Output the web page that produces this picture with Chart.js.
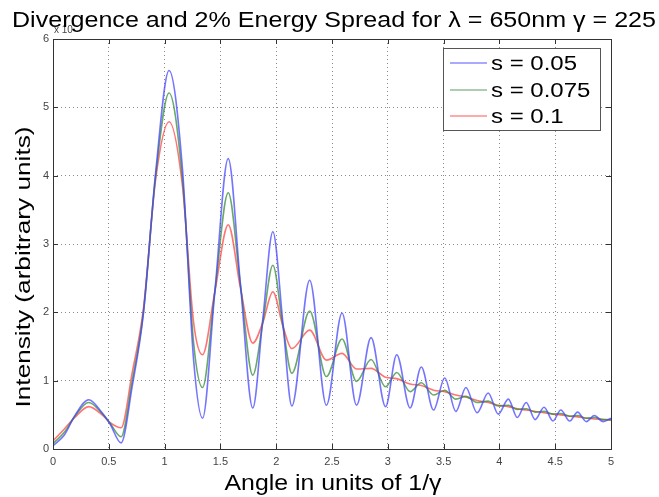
<!DOCTYPE html>
<html>
<head>
<meta charset="utf-8">
<script src="https://cdn.jsdelivr.net/npm/chart.js@4.4.1/dist/chart.umd.min.js"></script>
<style>
  html, body { margin: 0; padding: 0; background: #fff; }
  #wrap { width: 659px; height: 497px; }
</style>
</head>
<body>
<div id="wrap"><canvas id="chart" width="659" height="497"></canvas></div>
<script>
// Values (intensity in units of 1e-?)
var angles = [0, 0.1, 0.2, 0.32, 0.44, 0.51, 0.61, 0.71, 0.81, 0.92, 1.04, 1.16, 1.26, 1.34,
  1.45, 1.57, 1.68, 1.79, 1.88, 1.97, 2.06, 2.14, 2.30, 2.45, 2.59, 2.72, 2.85, 2.98, 3.08,
  3.20, 3.30, 3.41, 3.51, 3.61, 3.70, 3.80, 3.90, 3.99, 4.08, 4.16, 4.24, 4.32, 4.40, 4.48,
  4.55, 4.63, 4.70, 4.78, 4.85, 4.93, 5.0];

var s005 = [0.05, 0.2, 0.5, 0.72, 0.53, 0.37, 0.09, 0.92, 1.98, 4.05, 5.54, 4.1, 1.3, 0.45,
  2.3, 4.25, 2.4, 0.6, 1.9, 3.18, 1.85, 0.63, 2.47, 0.64, 1.99, 0.64, 1.63, 0.62, 1.38,
  0.6, 1.2, 0.57, 1.04, 0.55, 0.9, 0.53, 0.82, 0.51, 0.73, 0.46, 0.68, 0.43, 0.61, 0.41,
  0.57, 0.41, 0.54, 0.4, 0.49, 0.4, 0.45];

var s0075 = [0.08, 0.24, 0.49, 0.68, 0.52, 0.38, 0.18, 1.0, 2.0, 4.0, 5.21, 3.95, 1.55, 0.9,
  2.3, 3.75, 2.4, 1.08, 1.85, 2.69, 1.8, 1.11, 2.02, 1.06, 1.61, 0.99, 1.31, 0.91, 1.12,
  0.84, 0.97, 0.79, 0.86, 0.73, 0.77, 0.68, 0.7, 0.63, 0.64, 0.58, 0.59, 0.54, 0.55, 0.51,
  0.52, 0.48, 0.49, 0.45, 0.46, 0.43, 0.43];

var s01 = [0.12, 0.29, 0.47, 0.62, 0.5, 0.39, 0.31, 1.12, 2.05, 3.95, 4.79, 3.85, 1.85, 1.38,
  2.3, 3.28, 2.35, 1.55, 1.85, 2.3, 1.8, 1.47, 1.74, 1.3, 1.4, 1.17, 1.18, 1.05, 1.03,
  0.95, 0.93, 0.86, 0.84, 0.79, 0.76, 0.71, 0.68, 0.64, 0.62, 0.59, 0.57, 0.55, 0.53, 0.51,
  0.5, 0.48, 0.47, 0.45, 0.44, 0.43, 0.42];

var seriesLabels = ['s = 0.05', 's = 0.075', 's = 0.1'];
var seriesColors = ['rgba(70,70,255,0.75)', 'rgba(55,140,55,0.75)', 'rgba(255,70,70,0.75)'];
var legendColors = ['#8c8cff', '#93bd93', '#ff8c8c'];

var xTicks = [0, 0.5, 1, 1.5, 2, 2.5, 3, 3.5, 4, 4.5, 5];
var yTicks = [0, 1, 2, 3, 4, 5, 6];

var titleText = 'Divergence and 2% Energy Spread for \u03bb = 650nm \u03b3 = 225';
var xTitle = 'Angle in units of 1/\u03b3';
var yTitle = 'Intensity (arbitrary units)';

function toPoints(ys) {
    return angles.map(function (a, i) { return { x: a, y: ys[i] }; });
}

// text squeezed/stretched to a given width
function fitText(ctx, text, x, y, width, font, angle) {
    ctx.save();
    ctx.font = font;
    var w = ctx.measureText(text).width;
    ctx.translate(x, y);
    if (angle) ctx.rotate(angle);
    ctx.scale(width / w, 1);
    ctx.textAlign = 'center';
    ctx.fillText(text, 0, 0);
    ctx.restore();
}

var decorPlugin = {
    id: 'decor',
    afterDraw: function (chart) {
        var ctx = chart.ctx;
        var a = chart.chartArea;
        var xs = chart.scales.x, ys = chart.scales.y;

        // axes box + inward ticks
        ctx.save();
        ctx.strokeStyle = '#333';
        ctx.lineWidth = 1;
        ctx.strokeRect(a.left + 0.5, a.top + 0.5, a.right - a.left, a.bottom - a.top);
        ctx.beginPath();
        xTicks.forEach(function (t) {
            var px = Math.round(xs.getPixelForValue(t)) + 0.5;
            ctx.moveTo(px, a.bottom); ctx.lineTo(px, a.bottom - 5);
            ctx.moveTo(px, a.top); ctx.lineTo(px, a.top + 5);
        });
        yTicks.forEach(function (t) {
            var py = Math.round(ys.getPixelForValue(t)) + 0.5;
            ctx.moveTo(a.left, py); ctx.lineTo(a.left + 5, py);
            ctx.moveTo(a.right, py); ctx.lineTo(a.right - 5, py);
        });
        ctx.stroke();

        // exponent label
        ctx.fillStyle = '#444';
        ctx.font = '10px "Liberation Sans", Arial, sans-serif';
        ctx.textAlign = 'left';
        ctx.fillText('x 10', a.left + 1, 33);

        // titles
        ctx.fillStyle = '#000';
        fitText(ctx, titleText, 334, 27, 644, '22px "Liberation Sans", Arial, sans-serif');
        fitText(ctx, xTitle, 333, 490, 217, '22px "Liberation Sans", Arial, sans-serif');
        fitText(ctx, yTitle, 30, 267, 281, '21px "Liberation Sans", Arial, sans-serif', -Math.PI / 2);

        // legend
        var lx = 443, ly = 48, lw = 157, lh = 82;
        ctx.fillStyle = '#fff';
        ctx.fillRect(lx, ly, lw, lh);
        ctx.strokeStyle = '#555';
        ctx.strokeRect(lx + 0.5, ly + 0.5, lw, lh);
        var rows = [63, 90, 116];
        seriesLabels.forEach(function (lab, i) {
            ctx.strokeStyle = legendColors[i];
            ctx.lineWidth = 1.5;
            ctx.beginPath();
            ctx.moveTo(450, rows[i]); ctx.lineTo(487, rows[i]);
            ctx.stroke();
            ctx.save();
            ctx.fillStyle = '#000';
            ctx.font = '20px "Liberation Sans", Arial, sans-serif';
            ctx.textBaseline = 'middle';
            ctx.translate(491, rows[i] + 1);
            ctx.scale(1.2, 1);
            ctx.fillText(lab, 0, 0);
            ctx.restore();
        });
        ctx.restore();
    }
};

var ctx = document.getElementById('chart').getContext('2d');
var chart = new Chart(ctx, {
    type: 'line',
    data: {
        datasets: [s005, s0075, s01].map(function (ys, i) {
            return {
                label: seriesLabels[i],
                data: toPoints(ys),
                borderColor: seriesColors[i],
                borderWidth: 1.6,
                pointRadius: 0,
                fill: false,
                cubicInterpolationMode: 'monotone'
            };
        })
    },
    options: {
        responsive: false,
        animation: false,
        events: [],
        layout: { padding: { left: 0, right: 48, top: 39, bottom: 28 } },
        plugins: {
            legend: { display: false },
            title: { display: false },
            tooltip: { enabled: false }
        },
        scales: {
            x: {
                type: 'linear',
                min: 0, max: 5,
                afterBuildTicks: function (scale) {
                    scale.ticks = xTicks.map(function (v) { return { value: v }; });
                },
                afterFit: function (scale) { scale.height = 20; },
                grid: { color: '#8a8a8a', lineWidth: 1, drawTicks: false },
                border: { display: false, dash: [1, 3] },
                ticks: {
                    padding: 6,
                    color: '#444',
                    font: { family: '"Liberation Sans", Arial, sans-serif', size: 11 },
                    maxRotation: 0,
                    callback: function (v) { return String(v); }
                }
            },
            y: {
                min: 0, max: 6,
                afterBuildTicks: function (scale) {
                    scale.ticks = yTicks.map(function (v) { return { value: v }; });
                },
                afterFit: function (scale) { scale.width = 53; },
                grid: { color: '#8a8a8a', lineWidth: 1, drawTicks: false },
                border: { display: false, dash: [1, 3] },
                ticks: {
                    padding: 4,
                    color: '#444',
                    font: { family: '"Liberation Sans", Arial, sans-serif', size: 11 }
                }
            }
        }
    },
    plugins: [decorPlugin]
});
</script>
</body>
</html>
